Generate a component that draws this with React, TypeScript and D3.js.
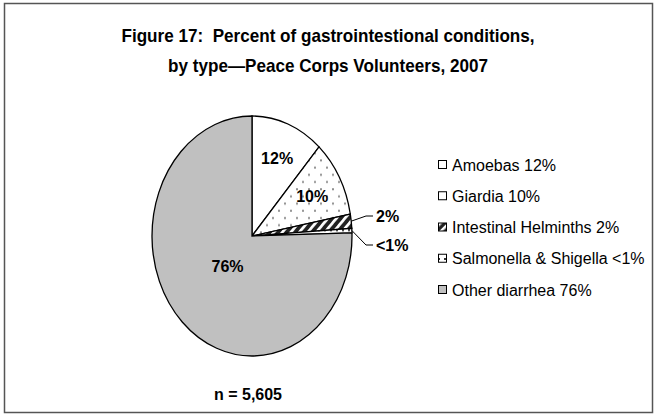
import React, { useEffect, useRef } from "react";
import * as d3 from "d3";

const categories = ["Amoebas", "Giardia", "Intestinal Helminths", "Salmonella & Shigella", "Other diarrhea"];
const values = [11.7, 10.4, 1.9, 0.6, 75.5];
const pctLabels = ["12%", "10%", "2%", "<1%", "76%"];
const fills = ["#ffffff", "url(#dots)", "url(#hatch)", "url(#plaid)", "#c0c0c0"];
const titleLines = ["Figure 17:  Percent of gastrointestional conditions,", "by type\u2014Peace Corps Volunteers, 2007"];

export default function App() {
  const svgRef = useRef<SVGSVGElement>(null);

  useEffect(() => {
    const w = 657;
    const h = 417;
    const svg = d3.select(svgRef.current).attr("width", w).attr("height", h);
    svg.selectAll("*").remove();

    // patterns for the slices
    const defs = svg.append("defs");
    const dots = defs.append("pattern").attr("id", "dots").attr("patternUnits", "userSpaceOnUse")
      .attr("width", 12).attr("height", 12);
    dots.append("rect").attr("width", 12).attr("height", 12).attr("fill", "#fff");
    dots.append("circle").attr("cx", 3).attr("cy", 3).attr("r", 1).attr("fill", "#888");
    dots.append("circle").attr("cx", 9).attr("cy", 9).attr("r", 1).attr("fill", "#888");

    const hatch = defs.append("pattern").attr("id", "hatch").attr("patternUnits", "userSpaceOnUse")
      .attr("width", 6).attr("height", 6).attr("patternTransform", "rotate(45)");
    hatch.append("rect").attr("width", 6).attr("height", 6).attr("fill", "#222");
    hatch.append("rect").attr("width", 2.5).attr("height", 6).attr("fill", "#fff");

    const plaid = defs.append("pattern").attr("id", "plaid").attr("patternUnits", "userSpaceOnUse")
      .attr("width", 6).attr("height", 6);
    plaid.append("rect").attr("width", 6).attr("height", 6).attr("fill", "#fff");
    plaid.append("rect").attr("width", 2).attr("height", 2).attr("fill", "#333");

    // outer frame
    svg.append("rect").attr("x", 4.5).attr("y", 3.5).attr("width", 648).attr("height", 409)
      .attr("fill", "#fff").attr("stroke", "#555").attr("stroke-width", 1.5);

    const font = "'Liberation Sans', Arial, sans-serif";

    // title, a little condensed
    titleLines.forEach((t, i) => {
      svg.append("g").attr("transform", `translate(328,${42 + i * 30}) scale(0.95,1)`)
        .append("text").attr("x", 0).attr("y", 0).attr("text-anchor", "middle")
        .style("font-family", font).style("font-weight", "bold")
        .style("font-size", "18px").style("white-space", "pre").text(t);
    });

    const cx = 252;
    const cy = 236;
    const r = 100;
    const sy = 1.2; // pie is a bit taller than wide

    const pie = d3.pie<number>().sort(null).value((d) => d);
    const arcs = pie(values);
    const arc = d3.arc<d3.PieArcDatum<number>>().innerRadius(0).outerRadius(r);

    const g = svg.append("g").attr("transform", `translate(${cx},${cy}) scale(1,${sy})`);
    g.selectAll("path")
      .data(arcs)
      .join("path")
      .attr("d", arc)
      .attr("fill", (d, i) => fills[i])
      .attr("stroke", "#000")
      .attr("stroke-width", 1.3)
      .attr("vector-effect", "non-scaling-stroke");

    const pt = (a: number, rr: number) => [cx + Math.sin(a) * rr, cy - Math.cos(a) * rr * sy];

    // inside labels
    const inside = [0, 1, 4];
    const inR = [0.7, 0.69, 0.35];
    inside.forEach((i, k) => {
      const a = (arcs[i].startAngle + arcs[i].endAngle) / 2;
      const [x, y] = pt(a, r * inR[k]);
      svg.append("text").attr("x", x).attr("y", y + 6).attr("text-anchor", "middle")
        .style("font-family", font).style("font-weight", "bold").style("font-size", "16px")
        .text(pctLabels[i]);
    });

    // outside labels with leader lines
    const outside = [2, 3];
    const labelY = [216, 245];
    outside.forEach((i, k) => {
      const a = (arcs[i].startAngle + arcs[i].endAngle) / 2;
      const [x0, y0] = pt(a, r);
      const ly = labelY[k];
      svg.append("path")
        .attr("d", `M${x0},${y0}L${366},${ly}L${373},${ly}`)
        .attr("fill", "none").attr("stroke", "#000").attr("stroke-width", 1);
      svg.append("text").attr("x", 376).attr("y", ly + 6)
        .style("font-family", font).style("font-weight", "bold").style("font-size", "16px")
        .text(pctLabels[i]);
    });

    // legend
    const legY = d3.scalePoint<string>().domain(categories).range([165, 290]);
    const leg = svg.append("g");
    categories.forEach((c, i) => {
      const y = legY(c) as number;
      leg.append("rect").attr("x", 438.5).attr("y", y - 4.5).attr("width", 8).attr("height", 8)
        .attr("fill", fills[i]).attr("stroke", "#000").attr("stroke-width", 1);
      leg.append("text").attr("x", 452).attr("y", y + 5.5)
        .style("font-family", font).style("font-size", "16px")
        .text(`${c} ${pctLabels[i]}`);
    });

    svg.append("text").attr("x", 248).attr("y", 400).attr("text-anchor", "middle")
      .style("font-family", font).style("font-weight", "bold").style("font-size", "16px")
      .text("n = 5,605");
  }, []);

  return <svg ref={svgRef} style={{ display: "block", position: "absolute", left: 0, top: 0 }}></svg>;
}
